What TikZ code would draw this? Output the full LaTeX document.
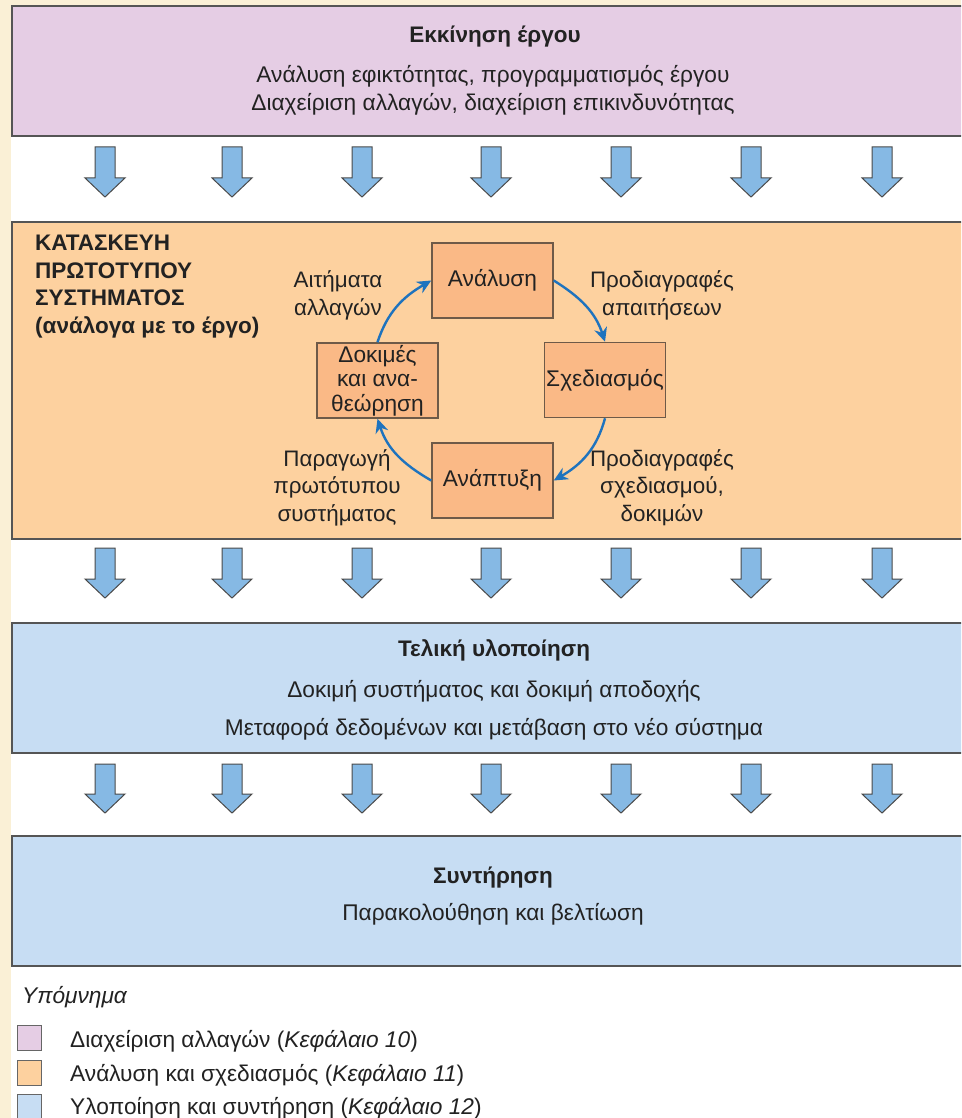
\documentclass[tikz,border=0pt]{standalone}
\usepackage{fontspec}
\setmainfont{Liberation Sans}
\usetikzlibrary{arrows.meta}

\definecolor{cream}{HTML}{FAF0D6}
\definecolor{purpleband}{HTML}{E5CDE4}
\definecolor{orangeband}{HTML}{FDD19F}
\definecolor{blueband}{HTML}{C7DDF3}
\definecolor{bandline}{HTML}{555555}
\definecolor{phasebox}{HTML}{FAB986}
\definecolor{phaseline}{HTML}{6E5A48}
\definecolor{flowblue}{HTML}{86B9E4}
\definecolor{flowline}{HTML}{4A4A4A}
\definecolor{cycleblue}{HTML}{1E73BE}
\definecolor{txt}{HTML}{222222}

\tikzset{
  band/.style={draw=bandline, line width=2pt, anchor=north west, minimum width=980pt, inner sep=0pt},
  bodytext/.style={text=txt, font=\fontsize{22.7}{28}\selectfont, align=center, inner sep=0pt},
  headtext/.style={text=txt, font=\fontsize{22.5}{28}\selectfont\bfseries, align=center, inner sep=0pt},
  phase/.style={draw=phaseline, fill=phasebox, line width=1.5pt, minimum width=121pt, minimum height=75pt,
    inner sep=0pt, text=txt, font=\fontsize{22.7}{24.5}\selectfont, align=center},
  cyclelabel/.style={text=txt, font=\fontsize{22.4}{27.5}\selectfont, align=center, inner sep=0pt},
  cyclearrow/.style={draw=cycleblue, line width=2.4pt, -{Stealth[length=14pt, width=13pt]}},
  flowarrow/.style={draw=flowline, fill=flowblue, line width=1pt, line join=miter},
  keybox/.style={draw=gray!80!black, line width=1pt, minimum width=24pt, minimum height=25pt, inner sep=0pt, anchor=north west},
  keytext/.style={text=txt, font=\fontsize{22.7}{24}\selectfont, anchor=west, inner sep=0pt}
}

\begin{document}
\begin{tikzpicture}[x=1pt,y=1pt]
\useasboundingbox (0,0) rectangle (961,-1118);
\clip (0,0) rectangle (961,-1118);

% page background: cream margin, white sheet
\fill[cream] (0,0) rectangle (961,-1118);
\fill[white] (11,-5) rectangle (990,-1130);

% horizontal bands
\node[band, fill=purpleband, minimum height=130pt] (startband) at (11,-5) {};
\node[band, fill=orangeband, minimum height=317pt] (protoband) at (11,-221) {};
\node[band, fill=blueband, minimum height=130pt] (implband) at (11,-622) {};
\node[band, fill=blueband, minimum height=130pt] (maintband) at (11,-835) {};

% downward block arrows between the bands
\foreach \top/\neck/\tip in {147/178/197, 548/579/598, 764/794/813}{
  \foreach \cx in {105,232,362,491,621,751,882}{
    \filldraw[flowarrow] (\cx-10,-\top) -- (\cx+10,-\top) -- (\cx+10,-\neck) -- (\cx+20,-\neck)
      -- (\cx,-\tip) -- (\cx-20,-\neck) -- (\cx-10,-\neck) -- cycle;
  }
}

% project start
\node[headtext] (startT) at (495,-37) {Εκκίνηση έργου};
\node[bodytext] (startB) at (493,-90) {Ανάλυση εφικτότητας, προγραμματισμός έργου\\Διαχείριση αλλαγών, διαχείριση επικινδυνότητας};

% prototype construction
\node[headtext, align=left, anchor=north west, font=\fontsize{22.5}{27.5}\selectfont\bfseries] (protoT) at (35,-235)
  {ΚΑΤΑΣΚΕΥΗ\\ΠΡΩΤΟΤΥΠΟΥ\\ΣΥΣΤΗΜΑΤΟΣ\\(ανάλογα με το έργο)};

\node[phase] (analysis) at (492.5,-280.5) {Ανάλυση};
\node[phase] (design) at (605,-380) {Σχεδιασμός};
\node[phase] (build) at (492.5,-480.5) {Ανάπτυξη};
\node[phase] (review) at (377.5,-380.5) {Δοκιμές\\και ανα-\\θεώρηση};

\draw[cyclearrow] (analysis.east) to[out=-32, in=108] (design.north);
\draw[cyclearrow] (design.south) to[out=-105, in=30] (build.east);
\draw[cyclearrow] (build.west) to[out=150, in=-72] (review.south);
\draw[cyclearrow] (review.north) to[out=72, in=-150] (analysis.west);

\node[cyclelabel] (lblchange) at (338,-295.5) {Αιτήματα\\αλλαγών};
\node[cyclelabel] (lblreq) at (662,-295.5) {Προδιαγραφές\\απαιτήσεων};
\node[cyclelabel] (lblproto) at (337,-487.5) {Παραγωγή\\πρωτότυπου\\συστήματος};
\node[cyclelabel] (lblspec) at (662,-487.5) {Προδιαγραφές\\σχεδιασμού,\\δοκιμών};

% final implementation
\node[headtext] (implT) at (494,-650) {Τελική υλοποίηση};
\node[bodytext] (implB1) at (494,-691) {Δοκιμή συστήματος και δοκιμή αποδοχής};
\node[bodytext] (implB2) at (494,-729) {Μεταφορά δεδομένων και μετάβαση στο νέο σύστημα};

% maintenance
\node[headtext] (maintT) at (493,-878) {Συντήρηση};
\node[bodytext] (maintB) at (493,-914) {Παρακολούθηση και βελτίωση};

% key
\node[keytext, font=\fontsize{22.7}{24}\selectfont\itshape] (keyT) at (22,-997) {Υπόμνημα};
\node[keybox, fill=purpleband] (key1) at (17,-1025) {};
\node[keybox, fill=orangeband] (key2) at (17,-1060) {};
\node[keybox, fill=blueband] (key3) at (17,-1094) {};
\node[keytext] (key1T) at (70,-1041) {Διαχείριση αλλαγών (\textit{Κεφάλαιο 10})};
\node[keytext] (key2T) at (70,-1075) {Ανάλυση και σχεδιασμός (\textit{Κεφάλαιο 11})};
\node[keytext] (key3T) at (70,-1108) {Υλοποίηση και συντήρηση (\textit{Κεφάλαιο 12})};
\end{tikzpicture}
\end{document}
